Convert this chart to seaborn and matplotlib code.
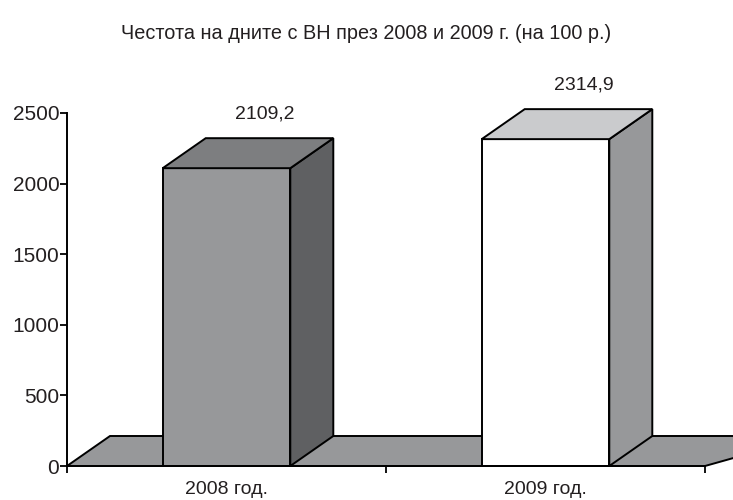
import matplotlib
matplotlib.use("Agg")
import matplotlib.pyplot as plt
from matplotlib.patches import Polygon
import seaborn as sns
import pandas as pd

# ---- data ----
categories = ["2008 год.", "2009 год."]
values = [2109.2, 2314.9]
value_labels = ["2109,2", "2314,9"]
y_ticks = [0, 500, 1000, 1500, 2000, 2500]
title = "Честота на дните с ВН през 2008 и 2009 г. (на 100 р.)"

# ---- style ----
front_colors = ["#97989A", "#FFFFFF"]
side_colors = ["#5F6062", "#97989A"]
top_colors = ["#7D7E80", "#CACBCD"]
floor_color = "#97989A"
text_color = "#231F20"

sns.set_theme(style="white")
plt.rcParams["font.family"] = ["Liberation Sans", "DejaVu Sans"]

fig = plt.figure(figsize=(7.33, 5), dpi=100)
ax = fig.add_axes([67 / 733, 34 / 500, 638 / 733, 353 / 500])

df = pd.DataFrame({"cat": categories, "val": values})
sns.barplot(data=df, x="cat", y="val", hue="cat", palette=front_colors,
            saturation=1, width=0.4, edgecolor="black", linewidth=1.4,
            legend=False, ax=ax, zorder=3)

ax.set_xlim(-0.5, 1.5)
ax.set_ylim(0, 2500)

# depth offsets (in data units) for pseudo-3D look
dx = 43 / 319
dy = 30 / (353 / 2500)

# floor
floor = Polygon([(-0.5, 0), (-0.5 + dx, dy), (1.5 + dx + 0.2, dy), (1.5, 0)],
                closed=True, facecolor=floor_color, edgecolor="black",
                linewidth=1.4, zorder=1, clip_on=False)
ax.add_patch(floor)

bars = [p for p in ax.patches if p is not floor]
for i, p in enumerate(bars):
    x0, w, h = p.get_x(), p.get_width(), p.get_height()
    side = Polygon([(x0 + w, 0), (x0 + w + dx, dy), (x0 + w + dx, h + dy), (x0 + w, h)],
                   closed=True, facecolor=side_colors[i], edgecolor="black",
                   linewidth=1.4, zorder=3, clip_on=False, joinstyle="miter")
    top = Polygon([(x0, h), (x0 + dx, h + dy), (x0 + w + dx, h + dy), (x0 + w, h)],
                  closed=True, facecolor=top_colors[i], edgecolor="black",
                  linewidth=1.4, zorder=3, clip_on=False, joinstyle="miter")
    ax.add_patch(side)
    ax.add_patch(top)
    ax.text(x0 + w / 2 + dx * 0.9, h + 385, value_labels[i], ha="center", va="center",
            fontsize=14, color=text_color, clip_on=False)

# axes styling
for s in ["top", "right"]:
    ax.spines[s].set_visible(False)
for s in ["left", "bottom"]:
    ax.spines[s].set_color("black")
    ax.spines[s].set_linewidth(1.4)
    ax.spines[s].set_zorder(4)

ax.set_yticks(y_ticks)
ax.set_yticklabels([str(t) for t in y_ticks])
ax.tick_params(axis="y", which="major", direction="out", length=5, width=1.3,
               color="black", labelsize=15, labelcolor=text_color, pad=0.5, left=True)
ax.set_xticks([0, 1])
ax.set_xticklabels(categories)
ax.set_xticks([-0.5, 0.5, 1.5], minor=True)
ax.tick_params(axis="x", which="major", length=0, labelsize=14,
               labelcolor=text_color, pad=10.5)
ax.tick_params(axis="x", which="minor", direction="out", length=5, width=1.3,
               color="black", bottom=True)
ax.set_xlabel("")
ax.set_ylabel("")
ax.grid(False)

fig.text(0.5, 1 - 33 / 500, title, ha="center", va="center", fontsize=14.3,
         color=text_color)

fig.savefig("out.png", dpi=100)
